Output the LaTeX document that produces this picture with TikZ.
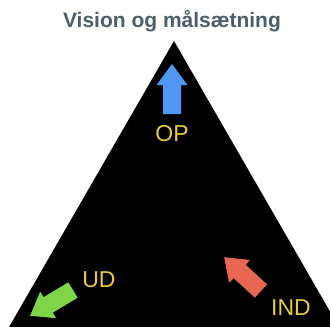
\documentclass[tikz,border=0pt]{standalone}
\usepackage{fontspec}
\setmainfont{Liberation Sans}
\usetikzlibrary{positioning}
\definecolor{titlegray}{RGB}{74,94,108}
\definecolor{labelyellow}{RGB}{232,202,62}
\definecolor{arrowblue}{RGB}{80,150,245}
\definecolor{arrowgreen}{RGB}{128,212,72}
\definecolor{arrowred}{RGB}{232,102,82}
\tikzset{
  bigarrow/.pic={
    \path[pic actions] (0,-9) -- (29,-9) -- (29,-15.5) -- (50,0)
      -- (29,15.5) -- (29,9) -- (0,9) -- cycle;
  },
  dirlabel/.style={text=labelyellow, font=\fontsize{23}{25}\selectfont, inner sep=0pt}
}

\begin{document}
\begin{tikzpicture}[x=1pt, y=-1pt]
	  \useasboundingbox (0,0) rectangle (330,327);
	  \node (title) [text=titlegray, font=\bfseries\fontsize{21}{24}\selectfont, inner sep=0pt, anchor=base]
	    at (172,27) {Vision og målsætning};
	  \begin{scope}
	    \clip (0,0) rectangle (330,327);
	    % the big triangle
	    \fill[black] (174,41) -- (358,360) -- (-10,360) -- cycle;
	  \end{scope}
	  % arrows
	  \pic[fill=arrowblue, rotate=90] at (172,114) {bigarrow};
	  \pic[fill=arrowgreen, rotate=-149] at (73,290) {bigarrow};
	  \pic[fill=arrowred, rotate=137.5] at (261,291) {bigarrow};
	  % labels
	  \node (op) [dirlabel] at (172,134) {OP};
	  \node (ud) [dirlabel] at (99,280) {UD};
	  \node (ind) [dirlabel] at (291,308) {IND};
	\end{tikzpicture}
\end{document}
